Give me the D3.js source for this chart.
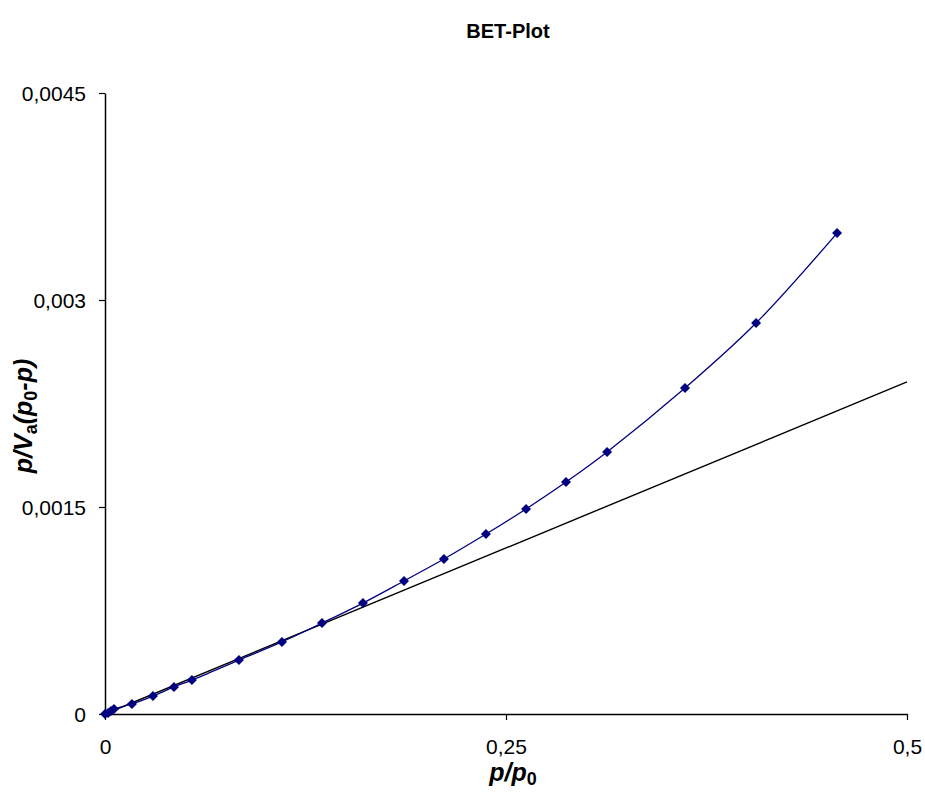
<!DOCTYPE html>
<html>
<head>
<meta charset="utf-8">
<script src="https://cdn.jsdelivr.net/npm/d3@7"></script>
<style>
  body { margin: 0; background: #fff; }
  svg { font-family: "Liberation Sans", Arial, sans-serif; }
</style>
</head>
<body>
<div id="chart"></div>
<script>
// measured points, p/p0 vs p/Va(p0-p)
var relPressure = [0, 0.0019, 0.0037, 0.0056, 0.0168, 0.0299, 0.0430, 0.0542, 0.0835, 0.1103,
  0.1353, 0.1608, 0.1864, 0.2113, 0.2375, 0.2625, 0.2874, 0.3130, 0.3616, 0.4059, 0.4564];
var betValues = [0, 0.0000072, 0.000022, 0.000036, 0.0000725, 0.00013, 0.000196, 0.000246, 0.000391, 0.000522,
  0.000659, 0.000804, 0.000964, 0.001123, 0.001304, 0.001486, 0.001681, 0.001899, 0.002362, 0.002833, 0.003485];

// linear BET fit
var fitX = [0, 0.5];
var fitY = [0, 0.002406];

var xTicks = [0, 0.25, 0.5];
var yTicks = [0, 0.0015, 0.003, 0.0045];

var width = 925, height = 792;
var margin = {top: 93, right: 18, bottom: 78, left: 105};

var svg = d3.select("#chart").append("svg")
    .attr("width", width)
    .attr("height", height);

var x = d3.scaleLinear().domain([0, 0.5]).range([margin.left, width - margin.right]);
var y = d3.scaleLinear().domain([0, 0.0045]).range([height - margin.bottom, margin.top]);

var fmt = function(d) { return String(d).replace(".", ","); };

// title
svg.append("text")
    .attr("x", 508)
    .attr("y", 38)
    .attr("text-anchor", "middle")
    .style("font-size", "20px")
    .style("font-weight", "bold")
    .text("BET-Plot");

// axes
var xAxis = svg.append("g")
    .attr("transform", "translate(0," + y(0) + ")")
    .call(d3.axisBottom(x).tickValues(xTicks).tickFormat(fmt).tickSizeInner(6).tickSizeOuter(0).tickPadding(19));
var yAxis = svg.append("g")
    .attr("transform", "translate(" + x(0) + ",0)")
    .call(d3.axisLeft(y).tickValues(yTicks).tickFormat(fmt).tickSizeInner(6).tickSizeOuter(0).tickPadding(13));

[xAxis, yAxis].forEach(function(a) {
  a.select(".domain").attr("stroke", "#000").attr("stroke-width", 1.5);
  a.selectAll(".tick line").attr("stroke", "#000").attr("stroke-width", 1.2);
  a.selectAll(".tick text")
      .attr("fill", "#000")
      .style("font-family", "'Liberation Sans', Arial, sans-serif")
      .style("font-size", "21px");
});
yAxis.selectAll(".tick text").attr("dy", "0.35em");

// axis titles
var xt = svg.append("text")
    .attr("x", 513)
    .attr("y", 781)
    .attr("text-anchor", "middle")
    .style("font-size", "25px")
    .style("font-weight", "bold")
    .style("font-style", "italic");
xt.append("tspan").text("p/p");
xt.append("tspan").attr("dy", 4).style("font-size", "18px").style("font-style", "normal").text("0");

var yt = svg.append("text")
    .attr("transform", "translate(32,416) rotate(-90)")
    .attr("text-anchor", "middle")
    .style("font-size", "25px")
    .style("font-weight", "bold")
    .style("font-style", "italic");
yt.append("tspan").text("p/V");
yt.append("tspan").attr("dy", 5).style("font-size", "18px").style("font-style", "normal").text("a");
yt.append("tspan").attr("dy", -5).text("(p");
yt.append("tspan").attr("dy", 5).style("font-size", "18px").style("font-style", "normal").text("0");
yt.append("tspan").attr("dy", -5).text("-p)");

// fit line
var fitData = fitX.map(function(d, i) { return [d, fitY[i]]; });
svg.append("path")
    .datum(fitData)
    .attr("fill", "none")
    .attr("stroke", "#000")
    .attr("stroke-width", 1.4)
    .attr("d", d3.line().x(function(d) { return x(d[0]); }).y(function(d) { return y(d[1]); }));

// measured series
var pts = relPressure.map(function(d, i) { return [d, betValues[i]]; });
svg.append("path")
    .datum(pts)
    .attr("fill", "none")
    .attr("stroke", "#000080")
    .attr("stroke-width", 1.3)
    .attr("d", d3.line().curve(d3.curveCatmullRom.alpha(0.5))
        .x(function(d) { return x(d[0]); })
        .y(function(d) { return y(d[1]); }));

svg.selectAll(".marker")
    .data(pts)
    .enter().append("path")
    .attr("class", "marker")
    .attr("d", d3.symbol().type(d3.symbolSquare).size(50))
    .attr("transform", function(d) { return "translate(" + x(d[0]) + "," + y(d[1]) + ") rotate(45)"; })
    .attr("fill", "#000080");
</script>
</body>
</html>
